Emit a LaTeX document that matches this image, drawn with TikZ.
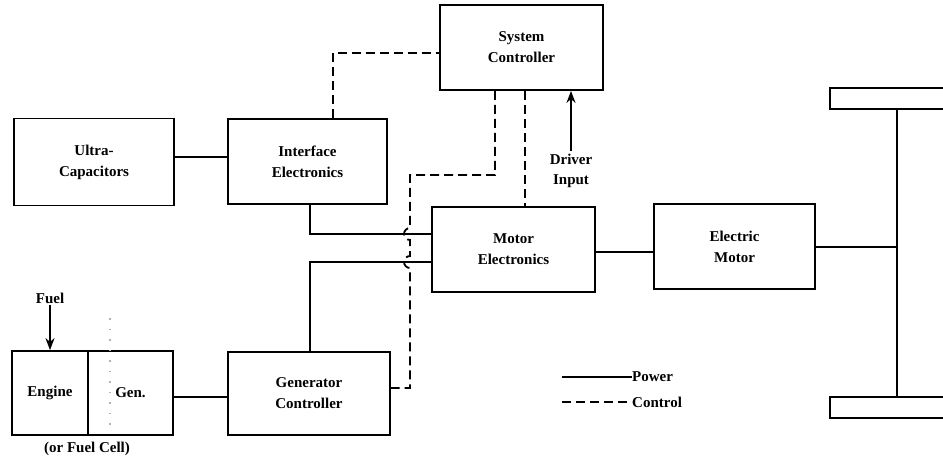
\documentclass[tikz,border=0pt]{standalone}
\usepackage{fontspec}
\setmainfont{Liberation Serif}
\usetikzlibrary{arrows.meta}
\begin{document}
\begin{tikzpicture}[x=1pt,y=-1pt,
  box/.style={draw,line width=1.8pt,align=center,inner sep=0pt,
    font=\fontsize{15}{21}\selectfont\bfseries},
  pwr/.style={line width=1.8pt},
  ctrl/.style={line width=1.8pt,dash pattern=on 9pt off 5pt},
  lbl/.style={font=\fontsize{15}{20}\selectfont\bfseries,align=center,inner sep=1pt},
  arr/.style={line width=1.8pt,-{Stealth[length=12pt,width=9pt]}}]
\useasboundingbox (0,0) rectangle (943,461);
\clip (0,0) rectangle (943,461);
% boxes
\node[box,minimum width=160pt,minimum height=87pt] (ultra) at (94,162) {Ultra-\\Capacitors};
\node[box,minimum width=159pt,minimum height=85pt] (intf) at (307.5,161.5) {Interface\\Electronics};
\node[box,minimum width=163pt,minimum height=85pt] (sysc) at (521.5,47.5) {System\\Controller};
\node[box,minimum width=163pt,minimum height=85pt] (mote) at (513.5,249.5) {Motor\\Electronics};
\node[box,minimum width=161pt,minimum height=85pt] (emot) at (734.5,246.5) {Electric\\Motor};
\node[box,minimum width=76pt,minimum height=84pt] (eng) at (50,393) {Engine};
\node[box,minimum width=85pt,minimum height=84pt] (gen) at (130.5,393) {Gen.};
\node[box,minimum width=162pt,minimum height=83pt] (genc) at (309,393.5) {Generator\\Controller};
% wheels and axle
\node[draw,line width=1.8pt,minimum width=120pt,minimum height=21pt,inner sep=0pt] (wtop) at (890,98.5) {};
\node[draw,line width=1.8pt,minimum width=120pt,minimum height=21pt,inner sep=0pt] (wbot) at (890,407.5) {};
\draw[pwr] (wtop.south -| 897,0) -- (wbot.north -| 897,0);
% labels
\node[lbl] (fuel) at (50,298) {Fuel};
\node[lbl] (orfc) at (87,449) {(or Fuel Cell)};
\node[lbl] (drv) at (571,171) {Driver\\Input};
\coordinate (drvtop) at (571,151);
% power connections
\draw[pwr] (ultra.east |- 0,157) -- (intf.west |- 0,157);
\draw[pwr] (intf.south -| 310,0) |- (mote.west |- 0,234);
\draw[pwr] (genc.north -| 310,0) |- (mote.west |- 0,262);
\draw[pwr] (mote.east |- 0,252) -- (emot.west |- 0,252);
\draw[pwr] (emot.east |- 0,247) -- (897,247);
\draw[pwr] (gen.east |- 0,397) -- (genc.west |- 0,397);
% fuel and driver input
\draw[arr] (fuel.south) -- (eng.north);
\draw[arr] (drvtop) -- (sysc.south -| drvtop);
% control connections
\draw[ctrl] (intf.north -| 333,0) |- (sysc.west |- 0,53);
\draw[ctrl] (sysc.south -| 525,0) -- (mote.north -| 525,0);
\draw[ctrl] (sysc.south -| 495,0) |- (410,175) -- (410,228)
  arc[start angle=90,end angle=270,radius=6pt] -- (410,256)
  arc[start angle=90,end angle=270,radius=6pt] |- (genc.east |- 0,388);
% faint dots
\draw[gray!60,line width=1.2pt,dash pattern=on 1.5pt off 9pt] (110,318) -- (110,430);
% legend
\coordinate (lp1) at (562,377);
\node[lbl,anchor=west,inner sep=0pt] (lpow) at (632,377) {Power};
\draw[pwr,line width=1.3pt] (lp1) -- (lpow.west);
\coordinate (lc1) at (562,402);
\node[lbl,anchor=west,inner sep=0pt] (lctl) at (632,402) {Control};
\draw[ctrl,line width=1.3pt] (lc1) -- (lctl.west);
\end{tikzpicture}
\end{document}
